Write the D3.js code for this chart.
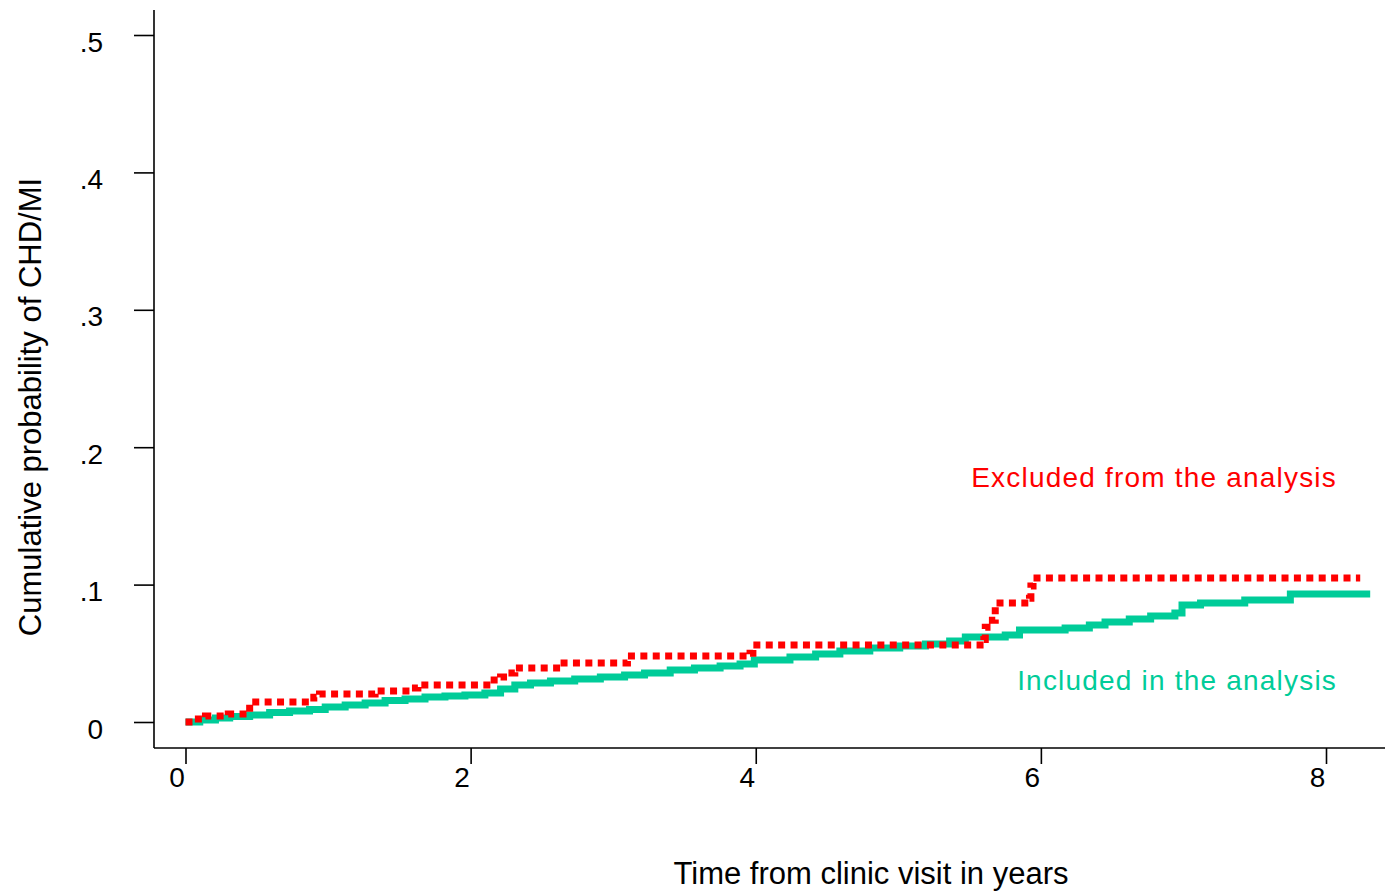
<!DOCTYPE html>
<html>
<head>
<meta charset="utf-8">
<script src="https://cdn.jsdelivr.net/npm/d3@7"></script>
<style>
  body { margin: 0; background: #fff; }
  text { font-family: "Liberation Sans", Arial, sans-serif; }
</style>
</head>
<body>
<div id="chart"></div>
<script>
// step points (years, cumulative probability)
const exclTime = [0, 0.05, 0.14, 0.30, 0.45, 0.90, 0.94, 1.33, 1.58, 1.63, 2.14, 2.21, 2.26, 2.31, 2.63, 3.10, 3.96, 3.98, 5.60, 5.61, 5.66, 5.68, 5.92, 5.93, 5.945, 8.24];
const exclProb = [0, 0.0022, 0.0044, 0.0058, 0.0146, 0.018, 0.0204, 0.0226, 0.0247, 0.0269, 0.0306, 0.0328, 0.0357, 0.0393, 0.0429, 0.048, 0.050, 0.056, 0.060, 0.069, 0.074, 0.0866, 0.090, 0.099, 0.1048, 0.1048];

const inclTime = [0, 0.10, 0.21, 0.31, 0.45, 0.59, 0.73, 0.87, 0.98, 1.12, 1.26, 1.40, 1.54, 1.68, 1.82, 1.96, 2.10, 2.21, 2.31, 2.42, 2.56, 2.73, 2.91, 3.08, 3.22, 3.40, 3.57, 3.75, 3.89, 3.99, 4.24, 4.42, 4.59, 4.80, 5.01, 5.19, 5.36, 5.47, 5.75, 5.85, 6.17, 6.34, 6.45, 6.62, 6.77, 6.94, 6.99, 7.12, 7.43, 7.75, 8.31];
const inclProb = [0, 0.0015, 0.003, 0.004, 0.0051, 0.0069, 0.008, 0.0091, 0.0109, 0.0124, 0.0138, 0.0156, 0.0167, 0.0182, 0.0189, 0.0197, 0.0211, 0.024, 0.0269, 0.0284, 0.0298, 0.0313, 0.0328, 0.0342, 0.0357, 0.0378, 0.0393, 0.0408, 0.0422, 0.0451, 0.0473, 0.0495, 0.0517, 0.0539, 0.0553, 0.0568, 0.059, 0.0619, 0.0633, 0.067, 0.0684, 0.0706, 0.0728, 0.075, 0.0771, 0.0793, 0.0852, 0.0866, 0.0888, 0.0932, 0.0932];

const xTicks = [0, 2, 4, 6, 8];
const yTicks = [0, 0.1, 0.2, 0.3, 0.4, 0.5];
const yTickLabels = ["0", ".1", ".2", ".3", ".4", ".5"];

const groups = ["Excluded from the analysis", "Included in the analysis"];

const width = 1385;
const height = 893;

const x = d3.scaleLinear().domain([0, 8]).range([185.5, 1326]);
const y = d3.scaleLinear().domain([0, 0.5]).range([722, 35]);

const svg = d3.select("#chart")
  .append("svg")
  .attr("width", width)
  .attr("height", height);

// y axis
const yAxis = svg.append("g")
  .attr("transform", "translate(154,0)")
  .call(d3.axisLeft(y).tickValues(yTicks).tickSize(20).tickPadding(31)
    .tickFormat((d, i) => yTickLabels[i]));
yAxis.select(".domain").attr("d", "M0,10V748");
yAxis.selectAll("text").attr("font-size", 28).attr("dy", 16).attr("font-family", null);
yAxis.selectAll("line,path").attr("stroke", "#000").attr("stroke-width", 1.6);

// x axis
const xAxis = svg.append("g")
  .attr("transform", "translate(0,748)")
  .call(d3.axisBottom(x).tickValues(xTicks).tickSize(16).tickPadding(23)
    .tickFormat(d3.format("d")));
xAxis.select(".domain").attr("d", "M154,0H1385");
xAxis.selectAll("text").attr("font-size", 28).attr("dx", -9).attr("dy", 0).attr("font-family", null);
xAxis.selectAll("line,path").attr("stroke", "#000").attr("stroke-width", 1.6);

// axis titles
svg.append("text")
  .attr("transform", "translate(41,407) rotate(-90)")
  .attr("text-anchor", "middle")
  .attr("font-size", 31)
  .text("Cumulative probability of CHD/MI");

svg.append("text")
  .attr("x", 871)
  .attr("y", 884)
  .attr("text-anchor", "middle")
  .attr("font-size", 31)
  .text("Time from clinic visit in years");

const line = d3.line()
  .x(d => x(d[0]))
  .y(d => y(d[1]))
  .curve(d3.curveStepAfter);

const incl = d3.zip(inclTime, inclProb);
const excl = d3.zip(exclTime, exclProb);

svg.append("path")
  .attr("d", line(incl))
  .attr("fill", "none")
  .attr("stroke", "#00cc99")
  .attr("stroke-width", 7);

svg.append("path")
  .attr("d", line(excl))
  .attr("fill", "none")
  .attr("stroke", "#ff0000")
  .attr("stroke-width", 7)
  .attr("stroke-dasharray", "7,5.4");

// labels on the right
svg.append("text")
  .attr("x", 1337)
  .attr("y", 487)
  .attr("text-anchor", "end")
  .attr("font-size", 28)
  .attr("fill", "#ff0000")
  .attr("letter-spacing", 1.2)
  .text(groups[0]);

svg.append("text")
  .attr("x", 1337)
  .attr("y", 690)
  .attr("text-anchor", "end")
  .attr("font-size", 28)
  .attr("fill", "#00cc99")
  .attr("letter-spacing", 1.2)
  .text(groups[1]);
</script>
</body>
</html>
